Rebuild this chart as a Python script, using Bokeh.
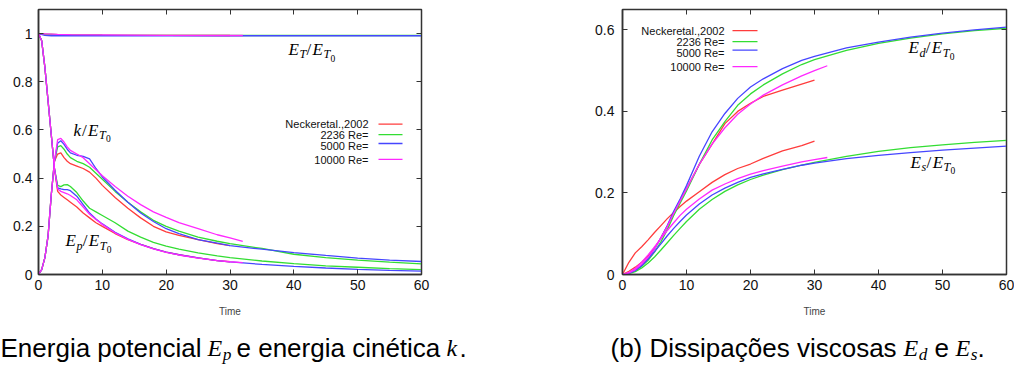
from bokeh.plotting import figure
from bokeh.layouts import column, row
from bokeh.models import Range1d, LinearAxis, FixedTicker, CustomJSTickFormatter
from bokeh.core.properties import value
from bokeh.embed import file_html
from bokeh.resources import INLINE

# ---------------- data ----------------
series_names = ["Neckeretal.,2002", "2236 Re=", "5000 Re=", "10000 Re="]
series_colors = ["#ff3c3c", "#33dd33", "#4646ff", "#ff28ff"]

x_ticks = [0, 10, 20, 30, 40, 50, 60]
y_ticks_a = [0, 0.2, 0.4, 0.6, 0.8, 1.0]
y_ticks_b = [0, 0.2, 0.4, 0.6]

# (a) energies: time grids
t_a_long = [0, 0.5, 1, 1.5, 2, 2.5, 3, 3.5, 4, 4.5, 5, 6, 7, 8, 9, 10, 12, 14, 16, 18, 20,
            22, 25, 28, 30, 35, 40, 45, 50, 55, 60]
t_a_red = [0, 0.5, 1, 1.5, 2, 2.5, 3, 3.5, 4, 4.5, 5, 6, 7, 8, 9, 10, 12, 14, 16, 18, 20,
           22, 25, 28, 30]
t_a_mag = [0, 0.5, 1, 1.5, 2, 2.5, 3, 3.5, 4, 4.5, 5, 6, 7, 8, 9, 10, 12, 14, 16, 18, 20,
           22, 25, 28, 30, 32]

k_red = [0, 0.02, 0.07, 0.16, 0.33, 0.47, 0.50, 0.505, 0.485, 0.47, 0.46, 0.45, 0.44, 0.425,
         0.40, 0.37, 0.32, 0.275, 0.235, 0.20, 0.177, 0.162, 0.145, 0.128, 0.12]
k_green = [0, 0.02, 0.07, 0.16, 0.33, 0.47, 0.53, 0.535, 0.52, 0.50, 0.485, 0.47, 0.46, 0.445,
           0.42, 0.395, 0.345, 0.30, 0.26, 0.225, 0.20, 0.18, 0.155, 0.138, 0.128, 0.108,
           0.084, 0.07, 0.06, 0.051, 0.044]
k_blue = [0, 0.02, 0.07, 0.16, 0.33, 0.47, 0.545, 0.555, 0.54, 0.52, 0.505, 0.495, 0.49, 0.48,
          0.44, 0.405, 0.35, 0.30, 0.255, 0.22, 0.19, 0.17, 0.145, 0.13, 0.12, 0.105, 0.091,
          0.079, 0.068, 0.06, 0.054]
k_mag = [0, 0.02, 0.07, 0.16, 0.33, 0.47, 0.56, 0.565, 0.55, 0.53, 0.515, 0.50, 0.485, 0.46,
         0.435, 0.41, 0.365, 0.325, 0.29, 0.26, 0.237, 0.215, 0.19, 0.165, 0.152, 0.138]

ep_red = [1.0, 0.97, 0.86, 0.72, 0.58, 0.44, 0.345, 0.33, 0.32, 0.31, 0.30, 0.28, 0.255, 0.235,
          0.215, 0.20, 0.17, 0.145, 0.125, 0.107, 0.093, 0.082, 0.069, 0.058, 0.053]
ep_green = [1.0, 0.97, 0.86, 0.72, 0.58, 0.44, 0.37, 0.365, 0.372, 0.373, 0.365, 0.34, 0.305,
            0.275, 0.26, 0.245, 0.215, 0.18, 0.155, 0.133, 0.118, 0.105, 0.09, 0.077, 0.07,
            0.056, 0.045, 0.036, 0.03, 0.024, 0.02]
ep_blue = [1.0, 0.97, 0.86, 0.72, 0.58, 0.44, 0.36, 0.355, 0.352, 0.352, 0.348, 0.325, 0.29,
           0.255, 0.23, 0.21, 0.175, 0.148, 0.125, 0.107, 0.093, 0.082, 0.069, 0.058, 0.052,
           0.042, 0.034, 0.027, 0.021, 0.017, 0.014]
ep_mag = [1.0, 0.97, 0.86, 0.72, 0.58, 0.44, 0.355, 0.345, 0.34, 0.335, 0.328, 0.31, 0.28, 0.25,
          0.228, 0.208, 0.173, 0.146, 0.124, 0.106, 0.092, 0.081, 0.068, 0.058, 0.053, 0.049]

t_et_long = [0, 1, 2, 3, 5, 10, 20, 30, 40, 50, 60]
t_et_red = [0, 1, 2, 3, 5, 10, 20, 30]
t_et_mag = [0, 1, 2, 3, 5, 10, 20, 30, 32]
et_red = [1.0, 0.998, 0.997, 0.996, 0.995, 0.994, 0.993, 0.992]
et_green = [1.0, 0.998, 0.997, 0.996, 0.995, 0.994, 0.993, 0.992, 0.992, 0.992, 0.992]
et_blue = [1.0, 0.993, 0.991, 0.991, 0.991, 0.991, 0.991, 0.991, 0.991, 0.991, 0.991]
et_mag = [1.0, 0.999, 0.998, 0.997, 0.996, 0.995, 0.993, 0.992, 0.992]

# (b) dissipations
t_b_long = [0, 1, 2, 3, 4, 5, 6, 7, 8, 9, 10, 12, 14, 16, 18, 20, 22, 25, 28, 30, 35, 40, 45,
            50, 55, 60]
t_b_red = [0, 1, 2, 3, 4, 5, 6, 7, 8, 9, 10, 12, 14, 16, 18, 20, 22, 25, 28, 30]
t_b_mag = [0, 1, 2, 3, 4, 5, 6, 7, 8, 9, 10, 12, 14, 16, 18, 20, 22, 25, 28, 30, 32]

ed_red = [0, 0.008, 0.018, 0.03, 0.045, 0.065, 0.09, 0.118, 0.15, 0.18, 0.21, 0.27, 0.32,
          0.37, 0.40, 0.42, 0.437, 0.452, 0.467, 0.477]
ed_green = [0, 0.003, 0.01, 0.02, 0.035, 0.055, 0.08, 0.11, 0.145, 0.175, 0.205, 0.27, 0.33,
            0.375, 0.415, 0.443, 0.465, 0.492, 0.515, 0.527, 0.55, 0.567, 0.58, 0.59, 0.598,
            0.604]
ed_blue = [0, 0.003, 0.01, 0.022, 0.04, 0.062, 0.09, 0.12, 0.155, 0.185, 0.218, 0.29, 0.35,
           0.395, 0.432, 0.46, 0.48, 0.505, 0.525, 0.535, 0.556, 0.57, 0.582, 0.592, 0.6,
           0.607]
ed_mag = [0, 0.004, 0.012, 0.025, 0.042, 0.063, 0.09, 0.118, 0.15, 0.18, 0.21, 0.27, 0.32,
          0.36, 0.393, 0.418, 0.44, 0.465, 0.487, 0.5, 0.512]

es_red = [0, 0.03, 0.053, 0.068, 0.085, 0.103, 0.12, 0.137, 0.152, 0.167, 0.18, 0.203, 0.226,
          0.245, 0.26, 0.271, 0.285, 0.303, 0.316, 0.327]
es_green = [0, 0.002, 0.007, 0.016, 0.028, 0.043, 0.06, 0.078, 0.096, 0.113, 0.13, 0.16, 0.184,
            0.204, 0.22, 0.233, 0.244, 0.257, 0.268, 0.275, 0.29, 0.302, 0.311, 0.318, 0.324,
            0.329]
es_blue = [0, 0.003, 0.01, 0.022, 0.038, 0.056, 0.075, 0.095, 0.113, 0.13, 0.146, 0.173, 0.195,
           0.212, 0.226, 0.238, 0.247, 0.258, 0.268, 0.273, 0.284, 0.292, 0.299, 0.305, 0.31,
           0.315]
es_mag = [0, 0.005, 0.015, 0.03, 0.048, 0.068, 0.088, 0.108, 0.127, 0.145, 0.16, 0.185, 0.207,
          0.222, 0.235, 0.246, 0.255, 0.266, 0.276, 0.282, 0.287]

# ---------------- styling helpers ----------------
SANS = value("Liberation Sans")
SERIF = value("Liberation Serif")
FRAME = "#333333"
LW = 1.3

WID = {'E': .64, 'T': .58, 'd': .52, 's': .42, 'p': .52, 'k': .50, '/': .36, '0': .5, '.': .28}


def math_text(p, fx, fy, x0, yc, pieces, size):
    """draw italic-serif math made of (chars, level) pieces; yc = centre of main glyphs (px)"""
    x = x0
    for chars, level in pieces:
        fs = size * [1.0, 0.72, 0.56][level]
        dy = [0.0, 0.3, 0.52][level] * size
        style = "normal" if chars in ("/", "0", ".") else "italic"
        p.text(x=[fx(x)], y=[fy(yc + dy)], text=[chars], text_font=SERIF,
               text_font_style=style, text_font_size=f"{fs:.1f}px",
               text_baseline="middle", text_align="left", text_color="black")
        x += sum(WID.get(c, .5) for c in chars) * fs


def style_axes(p, xt, yt, ystandoff):
    fmt = CustomJSTickFormatter(code="return String(Math.round(tick*10)/10);")
    p.xaxis.ticker = FixedTicker(ticks=xt)
    p.yaxis.ticker = FixedTicker(ticks=yt)
    p.yaxis.formatter = fmt
    for ax in p.xaxis + p.yaxis:
        ax.major_tick_in = 5
        ax.major_tick_out = 0
        ax.minor_tick_line_color = None
        ax.axis_line_color = FRAME
        ax.axis_line_width = 1.5
        ax.major_tick_line_color = FRAME
        ax.major_label_text_font = "Liberation Sans"
        ax.major_label_text_font_size = "14px"
        ax.major_label_text_color = "#111111"
    p.yaxis.major_label_standoff = ystandoff
    p.xaxis.major_label_standoff = 5
    p.xaxis.axis_label = "Time"
    p.xaxis.axis_label_text_font = "Liberation Sans"
    p.xaxis.axis_label_text_font_size = "10px"
    p.xaxis.axis_label_text_font_style = "normal"
    p.xaxis.axis_label_standoff = 13
    empty = CustomJSTickFormatter(code="return '';")
    top = LinearAxis(ticker=FixedTicker(ticks=xt), formatter=empty, major_tick_in=5,
                     major_tick_out=0, minor_tick_line_color=None, axis_line_color=FRAME,
                     major_tick_line_color=FRAME, major_label_standoff=0,
                     major_label_text_font_size="0px")
    right = LinearAxis(ticker=FixedTicker(ticks=yt), formatter=empty, major_tick_in=5,
                       major_tick_out=0, minor_tick_line_color=None, axis_line_color=FRAME,
                       major_tick_line_color=FRAME, major_label_standoff=0,
                       major_label_text_font_size="0px")
    p.add_layout(top, "above")
    p.add_layout(right, "right")
    p.grid.visible = False
    p.outline_line_color = FRAME
    p.outline_line_width = 1.5


def legend(p, fx, fy, xr, xl0, xl1, ytext, yline):
    for name, col, yt, yl in zip(series_names, series_colors, ytext, yline):
        p.text(x=[fx(xr)], y=[fy(yt)], text=[name], text_font=SANS, text_font_size="11px",
               text_align="right", text_baseline="middle", text_color="#111111")
        p.line(x=[fx(xl0), fx(xl1)], y=[fy(yl), fy(yl)], line_color=col, line_width=LW)


# ---------------- figure (a) ----------------
pa = figure(width=507, height=325, x_range=Range1d(0, 60), y_range=Range1d(0, 1.1),
            min_border_left=38, min_border_right=86, min_border_top=9, min_border_bottom=47,
            output_backend="svg", toolbar_location=None, background_fill_color="white",
            border_fill_color="white")
style_axes(pa, x_ticks, y_ticks_a, 6)


def ax(px):
    return (px - 38) / (421 - 38) * 60


def ay(py):
    return (275 - py) / (275 - 9) * 1.1


a_sets = [
    (t_et_red, et_red, t_a_red, k_red, ep_red),
    (t_et_long, et_green, t_a_long, k_green, ep_green),
    (t_et_long, et_blue, t_a_long, k_blue, ep_blue),
    (t_et_mag, et_mag, t_a_mag, k_mag, ep_mag),
]
for (te, et, tk, kk, ep), col in zip(a_sets, series_colors):
    pa.line(te, et, line_color=col, line_width=LW)
    pa.line(tk, kk, line_color=col, line_width=LW)
    pa.line(tk, ep, line_color=col, line_width=LW)

legend(pa, ax, ay, 368, 378, 402, [124, 134.5, 146, 160.5], [124, 134.5, 143.5, 159.5])

math_text(pa, ax, ay, 288, 49, [("E", 0), ("T", 1), ("/", 0), ("E", 0), ("T", 1), ("0", 2)], 17)
math_text(pa, ax, ay, 73, 130, [("k", 0), ("/", 0), ("E", 0), ("T", 1), ("0", 2)], 17)
math_text(pa, ax, ay, 65, 241, [("E", 0), ("p", 1), ("/", 0), ("E", 0), ("T", 1), ("0", 2)], 17)

# ---------------- figure (b) ----------------
pb = figure(width=507, height=325, x_range=Range1d(0, 60), y_range=Range1d(0, 0.65),
            min_border_left=115, min_border_right=8, min_border_top=9, min_border_bottom=51,
            output_backend="svg", toolbar_location=None, background_fill_color="white",
            border_fill_color="white")
style_axes(pb, x_ticks, y_ticks_b, 8)


def bx(px):
    return (px - 622) / (1006 - 622) * 60


def by(py):
    return (273 - py) / (273 - 9) * 0.65


b_sets = [
    (t_b_red, ed_red, es_red),
    (t_b_long, ed_green, es_green),
    (t_b_long, ed_blue, es_blue),
    (t_b_mag, ed_mag, es_mag),
]
for (tt, ed, es), col in zip(b_sets, series_colors):
    pb.line(tt, ed, line_color=col, line_width=LW)
    pb.line(tt, es, line_color=col, line_width=LW)

legend(pb, bx, by, 724, 732, 757, [30, 41, 52.5, 66.5], [30, 41, 49.5, 66])

math_text(pb, bx, by, 908, 47, [("E", 0), ("d", 1), ("/", 0), ("E", 0), ("T", 1), ("0", 2)], 17)
math_text(pb, bx, by, 910, 161, [("E", 0), ("s", 1), ("/", 0), ("E", 0), ("T", 1), ("0", 2)], 17)

# ---------------- captions ----------------
pc = figure(width=1014, height=44, x_range=Range1d(0, 1014), y_range=Range1d(44, 0),
            x_axis_type=None, y_axis_type=None, min_border=0, outline_line_color=None,
            output_backend="svg", toolbar_location=None, title=None)
pc.grid.visible = False


def ident(v):
    return v


CAP = "26px"
MID = 22


def cap_text(x, s, align="left"):
    pc.text(x=[x], y=[MID], text=[s], text_font=SANS, text_font_size=CAP,
            text_align=align, text_baseline="middle", text_color="black")


cap_text(0, "Energia potencial")
math_text(pc, ident, ident, 207, MID, [("E", 0), ("p", 1)], 24)
cap_text(236, "e energia cinética")
math_text(pc, ident, ident, 446, MID, [("k", 0)], 24)
cap_text(459, ".")

cap_text(610, "(b) Dissipações viscosas")
math_text(pc, ident, ident, 903, MID, [("E", 0), ("d", 1)], 24)
cap_text(934, "e")
math_text(pc, ident, ident, 955, MID, [("E", 0), ("s", 1)], 24)
cap_text(977, ".")

layout = column(row(pa, pb), pc)
open("out.html", "w").write(file_html(layout, INLINE))
